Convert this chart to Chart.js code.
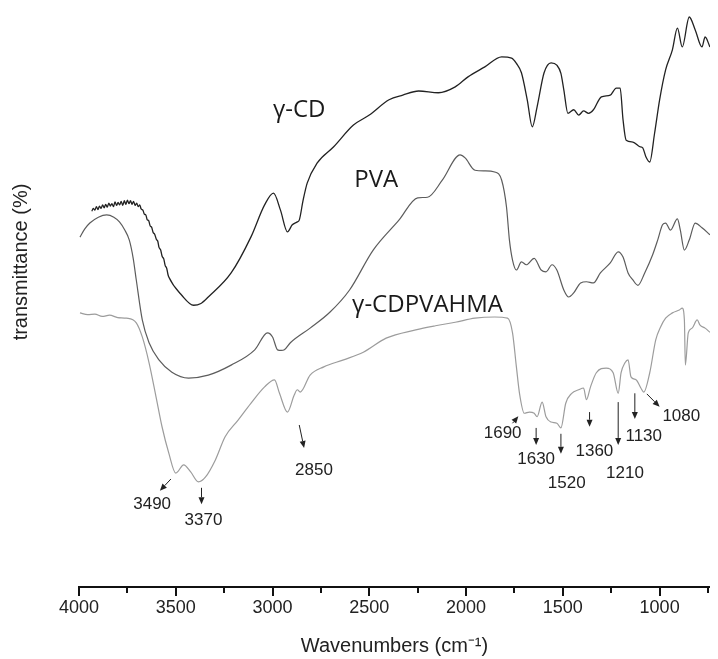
<!DOCTYPE html>
<html>
<head>
<meta charset="utf-8">
<script src="https://cdn.jsdelivr.net/npm/chart.js@4/dist/chart.umd.min.js"></script>
<style>
  html, body { margin: 0; padding: 0; background: #fff; }
  #c { display: block; }
</style>
</head>
<body>
<canvas id="c" width="718" height="659"></canvas>
<script>
// ---------------- DATA ----------------
const seriesNames = ['γ-CD', 'PVA', 'γ-CDPVAHMA'];

const wavenumbersCD = [3934,3926,3918,3910,3902,3894,3886,3878,3870,3862,3854,3846,3838,3830,3822,3814,3806,3798,3790,3782,3774,3766,3758,3750,3742,3734,3726,3718,3710,3702,3694,3686,3679,3670,3662,3655,3648,3640,3632,3625,3617,3609,3600,3593,3587,3578,3570,3562,3555,3547,3540,3536,3469,3408,3370,3332,3214,3112,3041,2995,2959,2923,2898,2872,2862,2842,2821,2770,2684,2582,2500,2398,2327,2245,2143,2056,1990,1903,1816,1765,1740,1714,1684,1658,1633,1597,1561,1531,1510,1495,1474,1444,1418,1393,1367,1342,1301,1255,1224,1204,1189,1173,1138,1102,1087,1071,1051,1026,1000,969,934,908,883,847,816,781,765,740];
const transCD = [64.0,64.5,64.2,64.8,64.3,64.9,64.5,65.1,64.6,65.2,64.7,65.4,64.9,65.3,64.8,65.6,65.0,65.5,65.1,65.7,65.0,65.8,65.2,65.9,65.3,65.8,65.2,65.7,65.0,65.4,64.8,65.1,64.4,64.2,63.5,63.4,62.6,62.4,61.5,61.3,60.4,60.1,59.2,58.9,57.9,57.4,56.3,55.9,54.8,54.3,53.2,52.8,49.7,48.0,48.3,49.4,53.5,59.6,65.1,67.1,64.2,60.5,61.7,62.2,62.5,65.9,68.8,72.2,75.0,78.7,80.4,83.0,83.8,84.5,84.2,85.2,86.9,88.6,90.3,90.1,89.2,87.6,83.0,78.4,81.8,87.6,89.3,88.9,87.5,84.7,80.7,81.3,80.4,81.1,80.7,81.3,83.5,83.8,85.0,85.0,79.6,76.1,75.8,75.0,74.8,73.3,72.4,77.3,83.0,88.1,91.5,95.2,92.0,97.1,94.9,92.0,93.7,92.0];

const wavenumbersPVA = [3995,3970,3944,3900,3857,3820,3791,3765,3740,3720,3704,3673,3638,3587,3520,3434,3332,3214,3092,3026,3000,2974,2955,2939,2908,2806,2704,2602,2480,2347,2250,2199,2123,2031,2005,1954,1903,1852,1816,1791,1776,1760,1740,1714,1689,1648,1612,1587,1556,1531,1495,1470,1444,1408,1378,1342,1306,1255,1214,1189,1163,1138,1112,1077,1036,1010,985,969,944,908,893,872,847,816,781,740];
const transPVA = [59.6,61.0,62.0,63.0,63.4,63.0,62.2,60.9,59.1,56.0,52.3,45.5,41.6,38.7,36.6,35.6,36.1,37.8,40.4,43.3,42.6,40.4,40.3,40.4,41.6,44.1,46.8,50.6,57.4,62.5,66.3,66.4,69.3,73.6,73.1,71.0,70.9,70.7,69.3,64.7,59.1,55.7,54.0,55.4,54.9,56.0,54.0,53.7,54.9,54.0,50.6,49.4,50.1,51.8,52.0,51.8,53.5,55.2,57.1,56.2,53.5,52.3,51.4,53.5,56.6,59.1,61.7,62.0,60.8,62.7,60.8,57.4,59.1,62.0,61.2,60.0];

const wavenumbersHMA = [3995,3955,3918,3880,3842,3800,3755,3704,3673,3638,3602,3571,3536,3500,3459,3423,3383,3347,3296,3245,3179,3112,3041,2990,2964,2923,2888,2872,2857,2806,2735,2633,2531,2413,2260,2158,2056,1954,1852,1786,1760,1740,1724,1699,1673,1648,1633,1607,1587,1561,1531,1510,1485,1454,1418,1393,1378,1357,1327,1276,1240,1214,1199,1179,1163,1148,1122,1097,1082,1051,1020,995,969,934,898,883,872,867,852,832,806,791,765,740];
const transHMA = [46.7,46.4,46.5,46.1,46.3,45.9,45.8,45.0,42.6,38.2,32.4,27.3,22.8,19.4,20.8,19.6,17.9,18.7,21.6,25.6,28.4,31.3,34.1,35.3,33.0,29.8,32.7,33.6,33.2,36.1,37.5,38.7,40.0,42.4,43.8,44.5,45.1,45.8,46.0,45.8,43.3,37.5,33.0,29.6,29.8,29.6,29.0,31.5,29.0,28.1,27.9,27.1,31.3,33.0,33.6,33.9,31.9,34.1,36.5,37.3,36.5,33.0,36.5,38.2,38.7,35.8,35.3,33.9,33.2,36.5,42.1,44.3,45.8,46.7,47.2,47.5,45.5,37.8,43.3,44.1,45.5,44.6,44.1,43.4];

const xTickValues = [4000,3750,3500,3250,3000,2750,2500,2250,2000,1750,1500,1250,1000,750];
const xTickLabels = ['4000','3500','3000','2500','2000','1500','1000'];

const xTitle = 'Wavenumbers (cm⁻¹)';
const yTitle = 'transmittance (%)';

// peak annotations (label, arrow tail, arrow head, label anchor) in data units
const peakLabels = ['3490','3370','2850','1690','1630','1520','1360','1210','1130','1080'];
const arrowFrom = [[3525,18.4],[3367,16.9],[2862,27.6],[1760,27.9],[1638,27.1],[1510,26.1],[1362,29.8],[1214,31.5],[1128,33.0],[1066,32.9]];
const arrowTo   = [[3582,16.4],[3367,14.1],[2837,23.7],[1730,29.1],[1638,24.2],[1510,22.7],[1362,27.3],[1214,24.2],[1128,28.6],[1000,30.7]];
const labelAt   = [[3622,14.1],[3357,11.4],[2786,19.8],[1811,26.2],[1638,21.8],[1480,17.7],[1337,23.2],[1179,19.4],[1082,25.6],[888,29.0]];
const seriesLabelAt = [[2862,81.3],[2464,69.3],[2199,48.0]];

// ---------------- CHART ----------------
const toPoints = (xs, ys) => xs.map((v, i) => ({ x: v, y: ys[i] }));
const colors = ['#222222', '#5c5c5c', '#9c9c9c'];
const widths = [1.3, 1.2, 1.2];

const overlay = {
  id: 'overlay',
  beforeDraw(chart) {
    const ctx = chart.ctx;
    ctx.save();
    ctx.fillStyle = '#fff';
    ctx.fillRect(0, 0, chart.width, chart.height);
    ctx.restore();
  },
  afterDraw(chart) {
    const { ctx, scales: { x, y }, chartArea } = chart;
    ctx.save();
    // tick marks (major every 500, minor every 250)
    ctx.strokeStyle = '#111';
    ctx.lineWidth = 2;
    xTickValues.forEach(v => {
      const px = Math.round(x.getPixelForValue(v));
      const len = v % 500 === 0 ? 9 : 6;
      ctx.beginPath();
      ctx.moveTo(px, chartArea.bottom);
      ctx.lineTo(px, chartArea.bottom + len);
      ctx.stroke();
    });

    // y title
    ctx.save();
    ctx.font = '20px "Liberation Sans", Arial, sans-serif';
    ctx.fillStyle = '#222';
    ctx.textAlign = 'center';
    ctx.textBaseline = 'middle';
    ctx.translate(21, 262);
    ctx.rotate(-Math.PI / 2);
    ctx.fillText(yTitle, 0, 0);
    ctx.restore();

    // series labels
    ctx.font = '24px "Open Sans", sans-serif';
    ctx.fillStyle = '#1a1a1a';
    ctx.textAlign = 'center';
    ctx.textBaseline = 'middle';
    seriesNames.forEach((name, i) => {
      const [wx, ty] = seriesLabelAt[i];
      ctx.fillText(name, x.getPixelForValue(wx), y.getPixelForValue(ty));
    });

    // peak arrows and labels
    ctx.strokeStyle = '#222';
    ctx.fillStyle = '#222';
    ctx.lineWidth = 1;
    peakLabels.forEach((lab, i) => {
      const x1 = x.getPixelForValue(arrowFrom[i][0]), y1 = y.getPixelForValue(arrowFrom[i][1]);
      const x2 = x.getPixelForValue(arrowTo[i][0]), y2 = y.getPixelForValue(arrowTo[i][1]);
      const ang = Math.atan2(y2 - y1, x2 - x1);
      const hl = 7, hw = 3;
      const bx = x2 - hl * Math.cos(ang), by = y2 - hl * Math.sin(ang);
      ctx.beginPath();
      ctx.moveTo(x1, y1);
      ctx.lineTo(bx, by);
      ctx.stroke();
      ctx.beginPath();
      ctx.moveTo(x2, y2);
      ctx.lineTo(bx + hw * Math.sin(ang), by - hw * Math.cos(ang));
      ctx.lineTo(bx - hw * Math.sin(ang), by + hw * Math.cos(ang));
      ctx.closePath();
      ctx.fill();
      ctx.font = '17px "Liberation Sans", Arial, sans-serif';
      ctx.textAlign = 'center';
      ctx.textBaseline = 'middle';
      ctx.fillText(lab, x.getPixelForValue(labelAt[i][0]), y.getPixelForValue(labelAt[i][1]));
    });
    ctx.restore();
  }
};

new Chart(document.getElementById('c'), {
  type: 'line',
  data: {
    datasets: [
      { label: seriesNames[0], data: toPoints(wavenumbersCD, transCD) },
      { label: seriesNames[1], data: toPoints(wavenumbersPVA, transPVA) },
      { label: seriesNames[2], data: toPoints(wavenumbersHMA, transHMA) }
    ].map((d, i) => Object.assign(d, {
      borderColor: colors[i],
      borderWidth: widths[i],
      pointRadius: 0,
      fill: false,
      cubicInterpolationMode: 'monotone'
    }))
  },
  options: {
    responsive: false,
    animation: false,
    events: [],
    layout: { padding: 0 },
    plugins: { legend: { display: false }, tooltip: { enabled: false } },
    scales: {
      x: {
        type: 'linear',
        reverse: true,
        min: 740,
        max: 4000,
        afterBuildTicks: (scale) => { scale.ticks = xTickValues.map(v => ({ value: v })); },
        afterFit: (scale) => { scale.height = 72; },
        ticks: {
          autoSkip: false,
          maxRotation: 0,
          padding: 10,
          color: '#222',
          font: { family: '"Liberation Sans", Arial, sans-serif', size: 18 },
          callback: (v) => (xTickLabels.includes(String(v)) ? String(v) : '')
        },
        grid: { display: true, drawOnChartArea: false, drawTicks: false },
        border: { display: true, color: '#111', width: 2 },
        title: {
          display: true,
          text: xTitle,
          color: '#222',
          font: { family: '"Liberation Sans", Arial, sans-serif', size: 20 },
          padding: { top: 0, bottom: 1 }
        }
      },
      y: {
        type: 'linear',
        min: 0,
        max: 100,
        afterFit: (scale) => { scale.width = 79; },
        ticks: { display: false },
        grid: { display: false },
        border: { display: false },
        title: { display: false }
      }
    }
  },
  plugins: [overlay]
});
</script>
</body>
</html>
